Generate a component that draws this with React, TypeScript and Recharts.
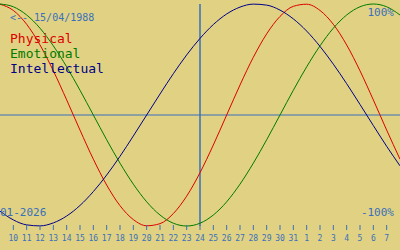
import { Line, LineChart, ReferenceLine, XAxis, YAxis } from "recharts";

// one entry per day, from Jan 9 to Feb 8 (edges run off the plot)
const dayLabels = [
  9, 10, 11, 12, 13, 14, 15, 16, 17, 18, 19, 20, 21, 22, 23, 24, 25, 26, 27, 28, 29, 30, 31,
  1, 2, 3, 4, 5, 6, 7, 8,
];

const physical = [
  0.998, 0.942, 0.817, 0.631, 0.398, 0.136, -0.136, -0.398, -0.631, -0.817, -0.942, -0.998,
  -0.979, -0.888, -0.731, -0.52, -0.27, 0, 0.27, 0.52, 0.731, 0.888, 0.979, 0.998, 0.942,
  0.817, 0.631, 0.398, 0.136, -0.136, -0.398,
];

const emotional = [
  1.0, 0.975, 0.901, 0.782, 0.623, 0.434, 0.223, 0, -0.223, -0.434, -0.623, -0.782, -0.901,
  -0.975, -1.0, -0.975, -0.901, -0.782, -0.623, -0.434, -0.223, 0, 0.223, 0.434, 0.623, 0.782,
  0.901, 0.975, 1.0, 0.975, 0.901,
];

const intellectual = [
  -0.866, -0.945, -0.99, -0.999, -0.972, -0.91, -0.815, -0.69, -0.541, -0.372, -0.189, 0,
  0.189, 0.372, 0.541, 0.69, 0.815, 0.91, 0.972, 0.999, 0.99, 0.945, 0.866, 0.756, 0.618,
  0.458, 0.282, 0.095, -0.095, -0.282, -0.458,
];

const todayIndex = 14; // 24 Jan
const tickIndex = Array.from({ length: 29 }, (_, i) => i);

const BLUE = "#3a6fbd";
const FONT = "'DejaVu Sans Mono', monospace";

const data = dayLabels.map((day, k) => ({
  x: k - 1,
  day,
  physical: physical[k],
  emotional: emotional[k],
  intellectual: intellectual[k],
}));

function DayTick(props: any) {
  const { x, payload } = props;
  return (
    <g>
      <line x1={x} x2={x} y1={225} y2={230} stroke={BLUE} strokeWidth={1} />
      <text x={x} y={241} textAnchor="middle" fill={BLUE} fontSize={8} fontFamily={FONT}>
        {dayLabels[payload.value + 1]}
      </text>
    </g>
  );
}

export default function App() {
  return (
    <div style={{ position: "absolute", left: 0, top: 0, width: 400, height: 250, background: "#e0d282", overflow: "hidden" }}>
      <LineChart width={400} height={250} data={data} margin={{ top: 4, right: 0, left: 0, bottom: 0 }}>
        <XAxis
          dataKey="x"
          type="number"
          domain={[-1, 29]}
          ticks={tickIndex}
          interval={0}
          height={24}
          axisLine={false}
          tickLine={false}
          tick={<DayTick />}
        />
        <YAxis type="number" domain={[-1, 1]} hide />
        <ReferenceLine y={0} stroke={BLUE} strokeWidth={1} />
        <ReferenceLine x={todayIndex} stroke={BLUE} strokeWidth={1.5} />
        <Line type="monotone" dataKey="physical" stroke="#dd0000" strokeWidth={1} dot={false} isAnimationActive={false} />
        <Line type="monotone" dataKey="emotional" stroke="#007a00" strokeWidth={1} dot={false} isAnimationActive={false} />
        <Line type="monotone" dataKey="intellectual" stroke="#000088" strokeWidth={1} dot={false} isAnimationActive={false} />
      </LineChart>
      <svg width={400} height={250} style={{ position: "absolute", left: 0, top: 0, pointerEvents: "none" }}>
        <text x={10} y={21} fill={BLUE} fontSize={10} fontFamily={FONT}>
          {"<-- 15/04/1988"}
        </text>
        <text x={10} y={43} fill="#dd0000" fontSize={13} fontFamily={FONT}>
          Physical
        </text>
        <text x={10} y={58} fill="#007a00" fontSize={13} fontFamily={FONT}>
          Emotional
        </text>
        <text x={10} y={73} fill="#000088" fontSize={13} fontFamily={FONT}>
          Intellectual
        </text>
        <text x={394} y={16} textAnchor="end" fill={BLUE} fontSize={11} fontFamily={FONT}>
          100%
        </text>
        <text x={394} y={216} textAnchor="end" fill={BLUE} fontSize={11} fontFamily={FONT}>
          -100%
        </text>
        <text x={0} y={216} fill={BLUE} fontSize={11} fontFamily={FONT}>
          01-2026
        </text>
      </svg>
    </div>
  );
}
